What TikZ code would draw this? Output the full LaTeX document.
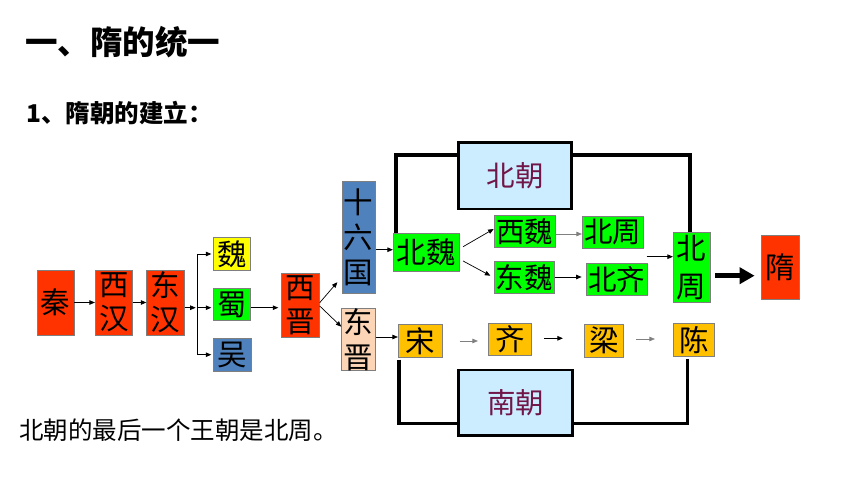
\documentclass[tikz,border=0pt]{standalone}
\usepackage{fontspec}
\setmainfont{Noto Sans CJK SC}
\usetikzlibrary{arrows.meta,calc}
\definecolor{cred}{HTML}{FF3300}
\definecolor{cyel}{HTML}{FFFF00}
\definecolor{cgrn}{HTML}{00FF00}
\definecolor{cblu}{HTML}{4F81BD}
\definecolor{cpch}{HTML}{FBD5B5}
\definecolor{corg}{HTML}{FFC000}
\definecolor{clbl}{HTML}{CCECFF}
\definecolor{cplm}{RGB}{112,22,72}
\definecolor{cbrd}{HTML}{7F7F7F}
\begin{document}
\begin{tikzpicture}[x=1pt,y=-1pt,
  box/.style={draw=cbrd,line width=0.8pt,inner sep=0pt,align=center,
    font=\fontsize{29.5pt}{34pt}\selectfont},
  era/.style={draw=black,line width=2.6pt,fill=clbl,inner sep=0pt,
    text=cplm,font=\fontsize{28.5pt}{34pt}\selectfont},
  arr/.style={line width=0.7pt,-{Triangle[length=5.5pt,width=4.5pt]}},
  garr/.style={arr,draw=gray},
  brk/.style={line width=3.3pt,line join=miter},
  bigarr/.style={line width=5pt,-{Triangle[length=15pt,width=16pt]}},
  lbl/.style={inner sep=0pt,anchor=west}]
\fill[white] (0,0) rectangle (860,484);
\useasboundingbox (0,0) rectangle (860,484);
% titles
\node[lbl,font=\fontsize{32.5pt}{36pt}\selectfont\bfseries] (t1) at (25,42) {一、隋的统一};
\node[lbl,font=\fontsize{24.5pt}{28pt}\selectfont\bfseries] (t2) at (26,113) {1、隋朝的建立：};
\node[lbl,font=\fontsize{24.5pt}{28pt}\selectfont] (t3) at (19,430) {北朝的最后一个王朝是北周。};
% boxes
\node[box,fill=cred,minimum width=37pt,minimum height=65pt] (qin) at (55.5,302.5) {秦};
\node[box,fill=cred,minimum width=37.4pt,minimum height=65pt] (xihan) at (114,302.5) {西\\汉};
\node[box,fill=cred,minimum width=37.6pt,minimum height=65pt] (donghan) at (165.5,302.5) {东\\汉};
\node[box,fill=cyel,minimum width=37pt,minimum height=32.6pt] (wei) at (232.2,254) {魏};
\node[box,fill=cgrn,minimum width=37pt,minimum height=32.4pt] (shu) at (232.2,304.5) {蜀};
\node[box,fill=cblu,minimum width=38pt,minimum height=32.7pt] (wu) at (232.7,354.7) {吴};
\node[box,fill=cred,minimum width=37.6pt,minimum height=64.4pt] (xijin) at (300.5,305.5) {西\\晋};
\node[box,fill=cblu,minimum width=33.3pt,minimum height=112.3pt,font=\fontsize{29.5pt}{35pt}\selectfont] (sll) at (358.7,237.2) {十\\六\\国};
\node[box,fill=cpch,minimum width=33.6pt,minimum height=62.4pt,font=\fontsize{29.5pt}{35pt}\selectfont] (dongjin) at (358.5,339.5) {东\\晋};
\node[box,fill=cgrn,minimum width=66pt,minimum height=38pt] (beiwei) at (426.3,252.3) {北魏};
\node[box,fill=cgrn,minimum width=61.3pt,minimum height=32pt,font=\fontsize{28.5pt}{34pt}\selectfont] (xiwei) at (524.7,231.7) {西魏};
\node[box,fill=cgrn,minimum width=60.3pt,minimum height=31.6pt,font=\fontsize{28.5pt}{34pt}\selectfont] (dongwei) at (524.2,277.5) {东魏};
\node[box,fill=cgrn,minimum width=61pt,minimum height=31.6pt,font=\fontsize{28.5pt}{34pt}\selectfont] (bz1) at (612.8,232.5) {北周};
\node[box,fill=cgrn,minimum width=61.3pt,minimum height=32.4pt,font=\fontsize{28.5pt}{34pt}\selectfont] (beiqi) at (616.7,279.5) {北齐};
\node[box,fill=cgrn,minimum width=36.7pt,minimum height=70pt,font=\fontsize{29.5pt}{38pt}\selectfont] (bz2) at (691.7,267.3) {北\\周};
\node[box,fill=cred,minimum width=37.6pt,minimum height=64.3pt] (sui) at (780.5,267.2) {隋};
\node[box,fill=corg,minimum width=44.4pt,minimum height=33pt] (song) at (420.5,340.8) {宋};
\node[box,fill=corg,minimum width=43pt,minimum height=32.4pt] (qi) at (510.2,339.5) {齐};
\node[box,fill=corg,minimum width=39.4pt,minimum height=33pt] (liang) at (604,340.8) {梁};
\node[box,fill=corg,minimum width=41pt,minimum height=33.4pt] (chen) at (693.8,340) {陈};
\node[era,minimum width=113.4pt,minimum height=66.3pt] (beichao) at (515,175.8) {北朝};
\node[era,minimum width=114.4pt,minimum height=65.7pt] (nanchao) at (515.5,402.8) {南朝};
% connectors
\coordinate (bj) at (197.7,307.7);
\draw[arr] (qin.east) -- (xihan.west);
\draw[arr] (xihan.east) -- (donghan.west);
\draw[arr] ([yshift=-5.2pt]donghan.east) -- ([xshift=-2pt]bj);
\draw[line width=0.7pt] (bj |- wei.west) -- (bj |- wu.west);
\draw[arr] (bj |- wei.west) -- ([xshift=-2pt]wei.west);
\draw[arr] (bj) -- ([xshift=-2pt]shu.west |- bj);
\draw[arr] (bj |- wu.west) -- ([xshift=-2pt]wu.west);
\draw[arr] ([yshift=-3.2pt]shu.east) -- ([xshift=-3pt,yshift=-2.2pt]xijin.west);
\draw[arr] ([yshift=2.8pt]xijin.east) -- ([xshift=-4.3pt,yshift=-45pt]sll.west);
\draw[arr] ([yshift=-0.5pt]xijin.east) -- ([yshift=12.8pt]dongjin.west);
\draw[arr] ([yshift=-12.5pt]sll.east) -- ([yshift=2.6pt]beiwei.west);
\draw[arr] ([yshift=2.5pt]dongjin.east) -- ([yshift=3.8pt]song.west);
\draw[arr] ([xshift=3.4pt,yshift=5.6pt]beiwei.east) -- ([yshift=2.7pt]xiwei.west);
\draw[arr] ([xshift=3.4pt,yshift=-8.7pt]beiwei.east) -- ([xshift=-3.3pt,yshift=1.8pt]dongwei.west);
\draw[garr] ([yshift=-2.3pt]xiwei.east) -- ([yshift=-1.5pt]bz1.west);
\draw[arr,shorten >=4pt] ([yshift=0.5pt]dongwei.east) -- ([yshift=2.5pt]beiqi.west);
\coordinate (fz) at (646.7,256.7);
\draw[arr] (fz) -- (bz2.west |- fz);
\draw[garr,shorten <=16.6pt,shorten >=10.4pt] (song.east |- 0,341) -- (qi.west |- 0,341);
\draw[arr,shorten <=12pt,shorten >=21pt] (qi.east |- 0,338.3) -- (liang.west |- 0,338.3);
\draw[garr,shorten <=12.3pt,shorten >=18pt] (liang.east |- 0,339) -- (chen.west |- 0,339);
\draw[bigarr,shorten <=5pt,shorten >=6.7pt] ([yshift=-8.4pt]bz2.east) -- ([yshift=-8.5pt]sui.west);
% brackets
\draw[brk] ([xshift=3pt]beiwei.north west) |- ([yshift=20.8pt]beichao.west);
\draw[brk] ([yshift=20.8pt]beichao.east) -| ([xshift=-1.7pt]bz2.north);
\draw[brk] ([xshift=1pt,yshift=-2pt]song.south west) |- ([yshift=-20.5pt]nanchao.west);
\draw[brk] ([yshift=-20.5pt]nanchao.east) -| ([xshift=-6pt,yshift=-1.6pt]chen.south);
\end{tikzpicture}
\end{document}
